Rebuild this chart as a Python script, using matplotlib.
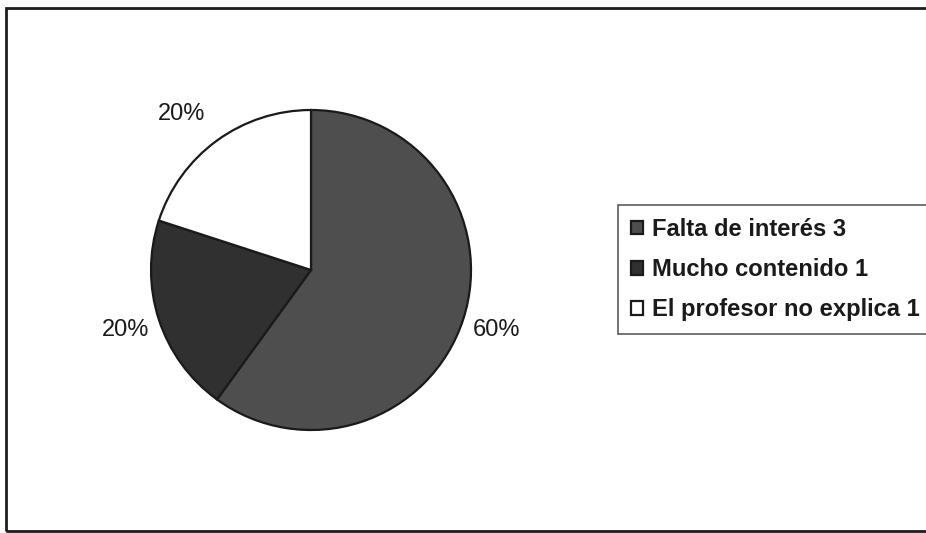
import matplotlib
matplotlib.use("Agg")
import matplotlib.pyplot as plt
from matplotlib.patches import Rectangle

categories = ["Falta de interés 3", "Mucho contenido 1", "El profesor no explica 1"]
values = [3, 1, 1]
colors = ["#4e4e4e", "#303030", "#ffffff"]

W, H = 926, 533
fig = plt.figure(figsize=(W / 100, H / 100), dpi=100)
fig.patch.set_facecolor("white")

# outer frame (extends past right edge like the scan)
frame = Rectangle((6 / W, 2 / H), 1.2, (525 - 2) / H, transform=fig.transFigure,
                  fill=False, edgecolor="#1e1e1e", linewidth=2.0, clip_on=False)
fig.patches.append(frame)

cx, cy, r = 311, 270, 160
ax = fig.add_axes([(cx - r) / W, (H - cy - r) / H, 2 * r / W, 2 * r / H])
wedges, texts, autotexts = ax.pie(
    values, colors=colors, startangle=90, counterclock=False, radius=1.0,
    autopct="%1.0f%%", pctdistance=1.22,
    wedgeprops=dict(edgecolor="#1a1a1a", linewidth=1.6),
    textprops=dict(fontsize=17, family=["Liberation Sans", "DejaVu Sans"], color="#1a1a1a"),
)
# Excel-style placement of the top label
autotexts[2].set_position((-0.81, 0.975))
ax.set_xlim(-1, 1)
ax.set_ylim(-1, 1)
ax.set_aspect("equal")
ax.axis("off")

leg = fig.legend(
    wedges, categories, loc="upper left",
    bbox_to_anchor=(618 / W, (H - 205) / H), bbox_transform=fig.transFigure,
    borderaxespad=0, frameon=True, fancybox=False,
    prop=dict(family=["Liberation Sans", "DejaVu Sans"], weight="bold", size=17.1),
    handlelength=0.5, handleheight=0.5, handletextpad=0.4,
    borderpad=0.55, labelspacing=0.72,
)
leg.get_frame().set_edgecolor("#333333")
leg.get_frame().set_linewidth(1.2)
for t in leg.get_texts():
    t.set_color("#1a1a1a")

fig.savefig("out.png", dpi=100)
